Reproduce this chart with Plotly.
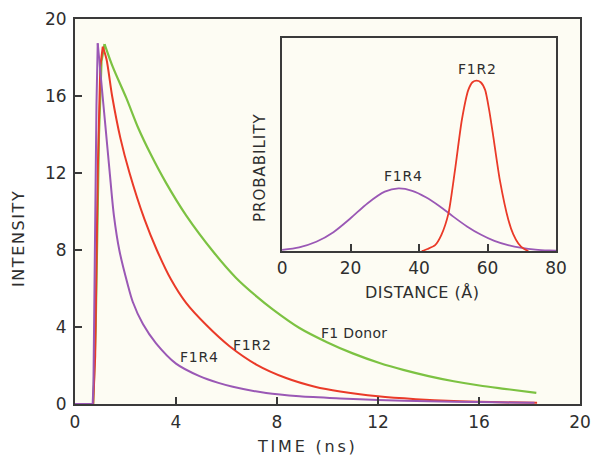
import plotly.graph_objects as go

# ---- main panel: fluorescence intensity decays ----
donor_t = [0, 0.72, 0.82, 0.95, 1.05, 1.17, 1.5, 2.03, 2.5, 3.0, 3.6, 4.4, 5.5, 6.38, 7.2,
           7.83, 8.89, 10.0, 11.0, 12.06, 13.0, 14.0, 15.0, 16.02, 17.0, 18.27]
donor_i = [0, 0, 4, 14, 17.8, 18.7, 17.5, 15.9, 14.35, 12.97, 11.5, 9.8, 7.87, 6.55, 5.58,
           4.92, 3.95, 3.2, 2.63, 2.13, 1.77, 1.45, 1.18, 0.96, 0.79, 0.58]
donor_peak = 5  # index of the maximum

f1r2_t = [0, 0.72, 0.80, 0.90, 1.00, 1.10, 1.25, 1.47, 1.8, 2.16, 2.75, 3.24, 3.81, 4.40,
          5.2, 6.12, 7.18, 8.36, 9.5, 10.5, 12, 13.5, 15, 16.5, 18.3]
f1r2_i = [0, 0, 2.5, 12, 17.5, 18.56, 17.9, 16.0, 13.8, 12.0, 9.6, 8.0, 6.45, 5.25,
          4.1, 3.0, 2.05, 1.35, 0.9, 0.65, 0.4, 0.25, 0.15, 0.1, 0.06]
f1r2_peak = 5

f1r4_t = [0, 0.70, 0.73, 0.76, 0.80, 0.85, 0.90, 1.05, 1.2, 1.37, 1.54, 1.76, 2.09, 2.29, 2.69,
          3.21, 4.0, 4.93, 5.68, 6.25, 7.57, 8.89, 10.5, 12, 14, 16, 18.2]
f1r4_i = [0, 0, 1.0, 5.0, 10.6, 15.5, 18.74, 16.6, 14.5, 12.1, 9.8, 7.96, 6.2, 5.3, 4.15,
          3.15, 2.1, 1.45, 1.1, 0.9, 0.57, 0.4, 0.29, 0.21, 0.14, 0.1, 0.07]
f1r4_peak = 6

main_ticks = [0, 4, 8, 12, 16, 20]

# ---- inset: distance distributions ----
r2_dist = [40.8, 42.5, 44.7, 46.5, 48.6, 50.5, 52.5, 54.4, 55.6, 56.8, 58.0, 59.3, 60.5,
           61.7, 63.6, 66.1, 67.5, 69.0, 70.5, 71.9]
r2_prob = [0.0, 0.010, 0.028, 0.075, 0.177, 0.38, 0.615, 0.756, 0.792, 0.80, 0.792, 0.756, 0.66,
           0.536, 0.333, 0.146, 0.080, 0.036, 0.012, 0.0]

r4_dist = [0, 5, 10, 15, 20, 25, 30, 34, 38, 42, 46, 50, 54, 58, 62, 66, 70, 74, 78, 80]
r4_prob = [0.006, 0.018, 0.044, 0.089, 0.154, 0.225, 0.279, 0.294, 0.283, 0.253, 0.211, 0.162,
           0.116, 0.078, 0.048, 0.028, 0.015, 0.007, 0.003, 0.002]

inset_ticks = [0, 20, 40, 60, 80]

GREEN = "#7cc242"
RED = "#ea3a28"
PURPLE = "#9a58b5"
INK = "#2e2e2e"
FONT = "DejaVu Sans"

fig = go.Figure()


def decay(t, i, k, color, width):
    # rising edge drawn straight, decay drawn smooth
    fig.add_trace(go.Scatter(x=t[:k + 1], y=i[:k + 1], mode="lines",
                             line=dict(color=color, width=width),
                             xaxis="x", yaxis="y", showlegend=False, hoverinfo="skip"))
    fig.add_trace(go.Scatter(x=t[k:], y=i[k:], mode="lines",
                             line=dict(color=color, width=width, shape="spline", smoothing=0.8),
                             xaxis="x", yaxis="y", showlegend=False))


decay(donor_t, donor_i, donor_peak, GREEN, 2.2)
decay(f1r2_t, f1r2_i, f1r2_peak, RED, 2)
decay(f1r4_t, f1r4_i, f1r4_peak, PURPLE, 2)

fig.add_trace(go.Scatter(x=r4_dist, y=r4_prob, mode="lines",
                         line=dict(color=PURPLE, width=1.8, shape="spline", smoothing=0.8),
                         xaxis="x2", yaxis="y2", showlegend=False))
fig.add_trace(go.Scatter(x=r2_dist, y=r2_prob, mode="lines",
                         line=dict(color=RED, width=1.8, shape="spline", smoothing=0.6),
                         xaxis="x2", yaxis="y2", showlegend=False))

axis_common = dict(showgrid=False, zeroline=False, showline=True, linecolor="#3a3a3a",
                   linewidth=2, mirror=True, ticklen=7, tickwidth=1.5,
                   tickcolor="#3a3a3a", tickfont=dict(family=FONT, size=17, color=INK))

x2_dom = [0.41, 0.9525]
y2_dom = [0.397, 0.951]

fig.update_layout(
    width=593, height=457,
    margin=dict(l=75, r=13, t=19, b=53, autoexpand=False),
    paper_bgcolor="white",
    plot_bgcolor="#fdfcf3",
    xaxis=dict(domain=[0, 1], range=[0, 20], tickvals=main_ticks, ticks="inside",
               ticklabelstandoff=2, **axis_common),
    yaxis=dict(domain=[0, 1], range=[0, 20], tickvals=main_ticks, ticks="inside",
               ticklabelstandoff=3, **axis_common),
    xaxis2=dict(domain=x2_dom, anchor="y2", range=[0, 80], tickvals=inset_ticks, ticks="inside",
                ticklabelstandoff=0, **axis_common),
    yaxis2=dict(domain=y2_dom, anchor="x2", range=[0, 1.0], showticklabels=False, ticks="",
                **axis_common),
    shapes=[dict(type="rect", xref="paper", yref="paper", x0=x2_dom[0], x1=x2_dom[1],
                 y0=y2_dom[0], y1=y2_dom[1], fillcolor="#eef3ee", line=dict(width=0),
                 layer="below")],
)


def ann(text, x, y, xref="paper", yref="paper", size=16, angle=0, spacing=0):
    t = f'<span style="letter-spacing:{spacing}px">{text}</span>' if spacing else text
    fig.add_annotation(text=t, x=x, y=y, xref=xref, yref=yref, showarrow=False,
                       textangle=angle, xanchor="center", yanchor="middle",
                       font=dict(family=FONT, size=size, color=INK))


ann("INTENSITY", -0.1129, 0.431, size=16, angle=-90, spacing=1.6)
ann("TIME (ns)", 0.4604, -0.111, size=16, spacing=2.8)
ann("DISTANCE (Å)", 0.688, 0.289, size=16, spacing=0.5)
ann("PROBABILITY", 0.3653, 0.614, size=15, angle=-90, spacing=1)

ann("F1R4", 4.93, 2.46, xref="x", yref="y", size=14, spacing=0.8)
ann("F1R2", 7.01, 3.08, xref="x", yref="y", size=14, spacing=0.8)
ann("F1 Donor", 11.03, 3.71, xref="x", yref="y", size=14, spacing=0.3)
ann("F1R2", 57.1, 0.853, xref="x2", yref="y2", size=14, spacing=0.8)
ann("F1R4", 35.4, 0.353, xref="x2", yref="y2", size=14, spacing=0.8)

fig.write_html(
    "out.html",
    config={"displayModeBar": False},
    post_script="document.body.style.margin='0px';document.body.style.overflow='hidden';",
)
